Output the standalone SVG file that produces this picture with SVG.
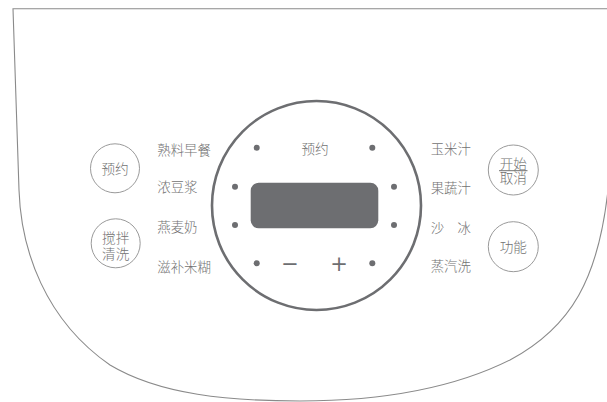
<svg xmlns="http://www.w3.org/2000/svg" width="607" height="402" viewBox="0 0 607 402">
<style>
.outline{fill:none;stroke:#8a8a8a;stroke-width:1.1}
.ring{fill:none;stroke:#6d6e71;stroke-width:2.6}
.btn{fill:#fff;stroke:#9a9a9a;stroke-width:1}
.dot{fill:#6d6e71}
.lbl{font-family:"Noto Sans CJK SC","Noto Sans",sans-serif;font-size:13.4px;font-weight:300;fill:#727272;dominant-baseline:central}
.btxt{font-family:"Noto Sans CJK SC","Noto Sans",sans-serif;font-size:13.6px;font-weight:300;fill:#727272;dominant-baseline:central;text-anchor:middle}
.sym{font-family:"DejaVu Sans",sans-serif;font-size:21px;fill:#6d6e71;dominant-baseline:central;text-anchor:middle}
</style>
<rect width="607" height="402" fill="#fff"/>
<g id="body">
<path class="outline" d="M608,8.7 L13,8.7 L19,190 C21,250 45,320 110,365 C160,395 230,401 300,401 C380,401 450,390 510,360 C570,328 600,280 609,180"/>
</g>
<g id="dial">
<circle class="ring" cx="316.5" cy="205.5" r="104.5"/>
<rect x="250.7" y="182.7" width="127.6" height="45.6" rx="8" fill="#6d6e71"/>
<circle class="dot" cx="256.7" cy="147.7" r="3"/>
<circle class="dot" cx="372.3" cy="147.7" r="3"/>
<circle class="dot" cx="235" cy="186.7" r="3"/>
<circle class="dot" cx="394" cy="186.7" r="3"/>
<circle class="dot" cx="235" cy="225" r="3"/>
<circle class="dot" cx="394" cy="225" r="3"/>
<circle class="dot" cx="256.7" cy="263.3" r="3"/>
<circle class="dot" cx="372.3" cy="263.3" r="3"/>
<text class="btxt" x="315" y="147.7">预约</text>
<text class="sym" x="290" y="263.5">−</text>
<text class="sym" x="339" y="263.5">+</text>
</g>
<g id="labels-left">
<text class="lbl" x="157.3" y="149.3">熟料早餐</text>
<text class="lbl" x="157.3" y="185.7">浓豆浆</text>
<text class="lbl" x="157.3" y="226">燕麦奶</text>
<text class="lbl" x="157.3" y="265.7">滋补米糊</text>
</g>
<g id="labels-right">
<text class="lbl" x="430.7" y="147.7">玉米汁</text>
<text class="lbl" x="430.7" y="186.7">果蔬汁</text>
<text class="lbl" x="430.7" y="226.7" xml:space="preserve">沙　冰</text>
<text class="lbl" x="430.7" y="265">蒸汽洗</text>
</g>
<g id="btn-yuyue">
<circle class="btn" cx="115" cy="168.3" r="24.5"/>
<text class="btxt" x="115" y="168.3">预约</text>
</g>
<g id="btn-clean">
<circle class="btn" cx="115.7" cy="243.3" r="24.5"/>
<text class="btxt"><tspan x="115.7" y="236.5">搅拌</tspan><tspan x="115.7" y="253">清洗</tspan></text>
</g>
<g id="btn-start">
<circle class="btn" cx="513.3" cy="170" r="25"/>
<text class="btxt"><tspan x="513.3" y="162.8">开始</tspan><tspan x="513.3" y="177">取消</tspan></text>
<line x1="499" y1="170.7" x2="527.5" y2="170.7" stroke="#727272" stroke-width="1"/>
</g>
<g id="btn-func">
<circle class="btn" cx="513.3" cy="246.7" r="25"/>
<text class="btxt" x="513.3" y="246">功能</text>
</g>
</svg>
